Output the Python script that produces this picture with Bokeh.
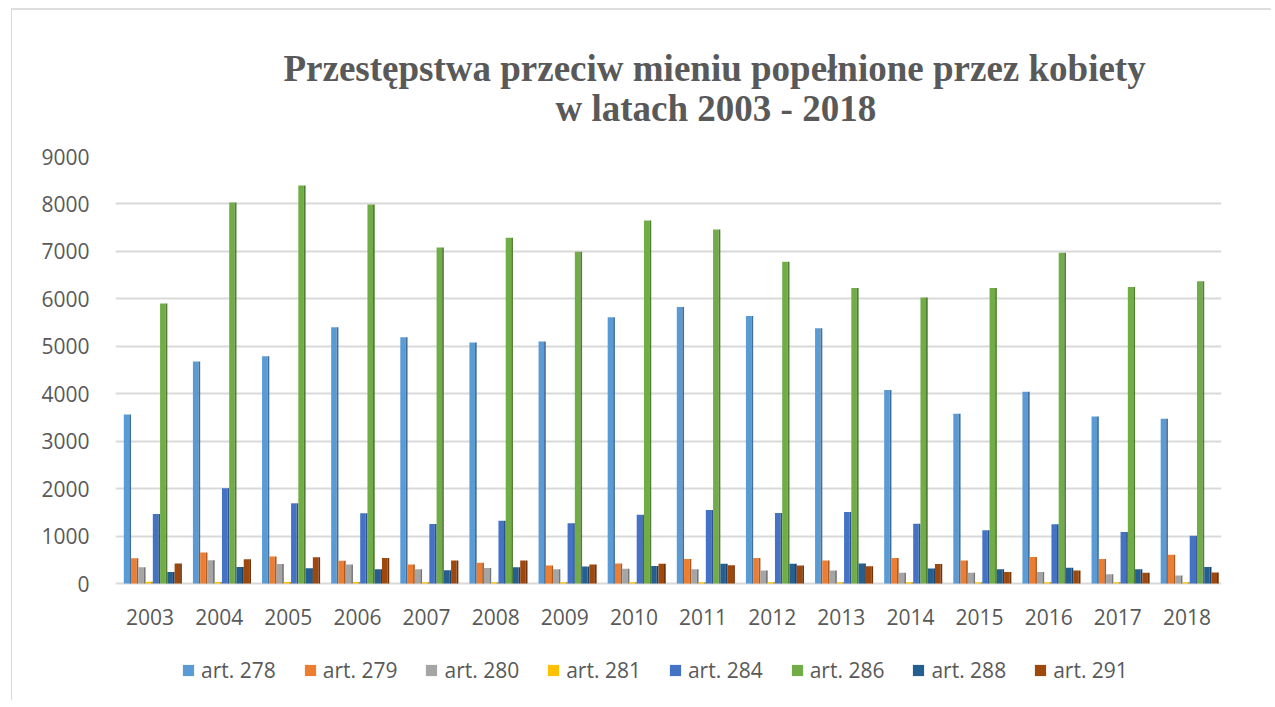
from bokeh.plotting import figure
from bokeh.models import Legend, LegendItem, Title, FactorRange, FixedTicker, Range1d, ColumnDataSource
from bokeh.core.properties import value
from bokeh.transform import dodge
from bokeh.embed import file_html
from bokeh.resources import INLINE

years = [str(y) for y in range(2003, 2019)]
series_names = ["art. 278", "art. 279", "art. 280", "art. 281", "art. 284", "art. 286", "art. 288", "art. 291"]
y_ticks = [0, 1000, 2000, 3000, 4000, 5000, 6000, 7000, 8000, 9000]

art_278 = [3560, 4680, 4790, 5400, 5190, 5080, 5100, 5610, 5830, 5640, 5380, 4080, 3580, 4040, 3520, 3470]
art_279 = [530, 655, 570, 480, 400, 435, 380, 420, 515, 535, 485, 535, 485, 560, 515, 605]
art_280 = [345, 490, 410, 400, 300, 325, 300, 310, 300, 275, 275, 225, 225, 240, 195, 170]
art_281 = [35, 30, 30, 30, 25, 25, 25, 25, 25, 25, 25, 25, 25, 25, 25, 25]
art_284 = [1465, 2010, 1690, 1480, 1255, 1320, 1270, 1450, 1550, 1485, 1505, 1260, 1120, 1250, 1085, 1005]
art_286 = [5900, 8030, 8390, 7990, 7080, 7290, 6990, 7650, 7460, 6780, 6230, 6030, 6230, 6970, 6250, 6370]
art_288 = [240, 350, 320, 300, 280, 340, 360, 370, 415, 415, 420, 315, 300, 330, 300, 350]
art_291 = [420, 510, 555, 535, 485, 485, 400, 415, 385, 380, 365, 410, 240, 275, 225, 230]

colors = ["#5B9BD5", "#ED7D31", "#A5A5A5", "#FFC000", "#4472C4", "#70AD47", "#255E91", "#9E480E"]

def darker(hexcol, f=0.72):
    r = int(int(hexcol[1:3], 16) * f)
    g = int(int(hexcol[3:5], 16) * f)
    b = int(int(hexcol[5:7], 16) * f)
    return "#%02x%02x%02x" % (r, g, b)

data = {"year": years}
all_series = [art_278, art_279, art_280, art_281, art_284, art_286, art_288, art_291]
keys = ["a278", "a279", "a280", "a281", "a284", "a286", "a288", "a291"]
for k, s in zip(keys, all_series):
    data[k] = s
source = ColumnDataSource(data)

TXT = "#595959"
TICK_FONT = "Open Sans"

# plot area: 0..9000 spans 427 px; frame extended below for category labels and legend
VAL_PX = 427
FRAME_H = 540
y_top = y_ticks[-1]
y_bottom = -y_top * (FRAME_H - VAL_PX) / VAL_PX

p = figure(frame_width=1106, frame_height=FRAME_H, x_range=FactorRange(*years),
           y_range=Range1d(y_bottom, y_top),
           output_backend="svg", toolbar_location=None,
           min_border_top=146, min_border_left=103, min_border_right=50, min_border_bottom=4)
p.styles = {"margin-left": "11px", "margin-top": "8px",
            "border-left": "1px solid #d9d9d9", "border-top": "2px solid #dedede"}

t2 = Title(text="w latach 2003 - 2018", align="left", offset=440,
           text_font="Liberation Serif", text_font_style="bold", text_font_size="37px",
           text_color=TXT, standoff=56)
t1 = Title(text="Przestępstwa przeciw mieniu popełnione przez kobiety", align="left", offset=168,
           text_font="Liberation Serif", text_font_style="bold", text_font_size="37px",
           text_color=TXT, standoff=-62)
p.add_layout(t2, "above")
p.add_layout(t1, "above")

step = 0.105
front_w = 0.08
side_w = 0.025
items = []
for i, (k, name, c) in enumerate(zip(keys, series_names, colors)):
    off = (i - 3.5) * step + 0.04
    r = p.vbar(x=dodge("year", off - 0.0125, range=p.x_range), top=k, bottom=0, width=front_w,
               source=source, fill_color=c, line_color=None)
    p.vbar(x=dodge("year", off + 0.04, range=p.x_range), top=k, bottom=0, width=side_w,
           source=source, fill_color=darker(c), line_color=None)
    items.append(LegendItem(label=name, renderers=[r]))

# category labels under the value area
p.text(x="year", y=0, text="year", source=source, y_offset=33,
       text_align="center", text_baseline="middle",
       text_font=value(TICK_FONT), text_font_size="21px", text_color=TXT)

p.xgrid.grid_line_color = None
p.ygrid.grid_line_color = "#d9d9d9"
p.ygrid.grid_line_width = 2
p.outline_line_color = None

p.yaxis.ticker = FixedTicker(ticks=y_ticks)
p.yaxis.axis_line_color = None
p.yaxis.major_tick_line_color = None
p.yaxis.minor_tick_line_color = None
p.yaxis.major_label_standoff = 20
p.yaxis.major_label_text_font = TICK_FONT
p.yaxis.major_label_text_font_size = "21px"
p.yaxis.major_label_text_color = TXT

p.xaxis.visible = False

legend = Legend(items=items, orientation="horizontal", location=(66, 12),
                border_line_color=None, background_fill_alpha=0,
                label_text_font=TICK_FONT, label_text_font_size="21px", label_text_color=TXT,
                glyph_width=14, glyph_height=14, label_standoff=6, spacing=27,
                padding=0, margin=0)
p.add_layout(legend, "center")

open("out.html", "w").write(file_html(p, INLINE))
